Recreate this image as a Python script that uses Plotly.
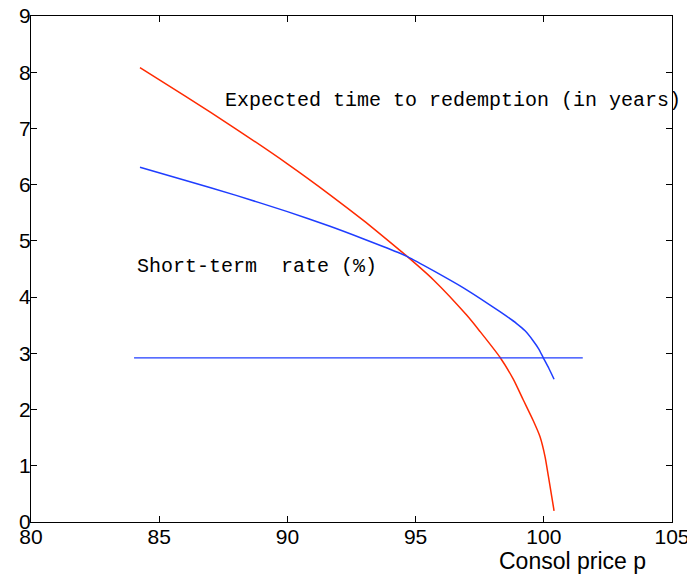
import plotly.graph_objects as go

# Expected time to redemption (in years) - red curve
red_x = [84.25, 86, 88, 90, 91.66, 93, 94.39, 94.68, 95.69, 96.99, 97.51, 98.29, 98.81, 99.20, 99.59, 99.85, 100.05, 100.18, 100.31, 100.40]
red_y = [8.08, 7.58, 6.99, 6.37, 5.82, 5.35, 4.83, 4.72, 4.31, 3.68, 3.39, 2.93, 2.54, 2.17, 1.80, 1.52, 1.16, 0.81, 0.45, 0.20]

# Short-term rate (%) - blue curve
blue_x = [84.25, 86, 88, 90, 91.66, 93, 94.39, 94.68, 95.69, 96.99, 98.29, 98.94, 99.27, 99.59, 99.80, 99.98, 100.20, 100.40]
blue_y = [6.31, 6.08, 5.81, 5.52, 5.26, 5.03, 4.78, 4.72, 4.47, 4.13, 3.74, 3.53, 3.40, 3.22, 3.08, 2.92, 2.73, 2.54]

# Flat reference line
flat_x = [84.02, 101.52]
flat_y = [2.92, 2.92]

x_ticks = [80, 85, 90, 95, 100, 105]
y_ticks = [0, 1, 2, 3, 4, 5, 6, 7, 8, 9]

RED = "#ff2a00"
BLUE = "#1f3dff"

# the page body has an 8px margin, so the figure is sized to fit the window
W, H = 687, 571
L, R, T, B = 23, 23, 8, 57
PW, PH = W - L - R, H - T - B

fig = go.Figure()
fig.add_trace(go.Scatter(x=red_x, y=red_y, mode="lines", line=dict(color=RED, width=1.5),
                         line_shape="spline", line_smoothing=0.6, showlegend=False))
fig.add_trace(go.Scatter(x=blue_x, y=blue_y, mode="lines", line=dict(color=BLUE, width=1.5),
                         line_shape="spline", line_smoothing=0.6, showlegend=False))
fig.add_trace(go.Scatter(x=flat_x, y=flat_y, mode="lines", line=dict(color=BLUE, width=1.2), showlegend=False))

mono = "Courier New, Liberation Mono, monospace"
sans = "Helvetica, Arial, Liberation Sans, sans-serif"

fig.add_annotation(x=87.48, y=7.49, xref="x", yref="y", text="Expected time to redemption (in years)",
                   showarrow=False, xanchor="left", yanchor="middle",
                   font=dict(family=mono, size=20, color="black"))
fig.add_annotation(x=84.06, y=4.54, xref="x", yref="y", text="Short-term\u00a0\u00a0rate (%)",
                   showarrow=False, xanchor="left", yanchor="middle",
                   font=dict(family=mono, size=20, color="black"))
# x-axis label, placed as in the reference (page px 572.5, 561)
fig.add_annotation(x=(572.5 - 8 - L) / PW, y=(H - B - (561 - 8)) / PH, xref="paper", yref="paper",
                   text="Consol price p", showarrow=False, xanchor="center", yanchor="middle",
                   font=dict(family=sans, size=23, color="black"))

fig.update_layout(
    width=W, height=H,
    margin=dict(l=L, r=R, t=T, b=B, autoexpand=False),
    plot_bgcolor="white", paper_bgcolor="white",
    xaxis=dict(range=[80, 105], tickvals=x_ticks, ticks="inside", ticklen=6, tickcolor="black",
               showline=True, linecolor="black", linewidth=1, mirror="ticks", showgrid=False, zeroline=False,
               automargin=False, ticklabelstandoff=-4, ticklabeloverflow="allow",
               tickfont=dict(family=sans, size=21, color="black")),
    yaxis=dict(range=[0, 9], tickvals=y_ticks, ticks="inside", ticklen=6, tickcolor="black",
               showline=True, linecolor="black", linewidth=1, mirror="ticks", showgrid=False, zeroline=False,
               automargin=False, ticklabelstandoff=-5, ticklabeloverflow="allow",
               tickfont=dict(family=sans, size=21, color="black")),
)

fig.write_html("out.html")
